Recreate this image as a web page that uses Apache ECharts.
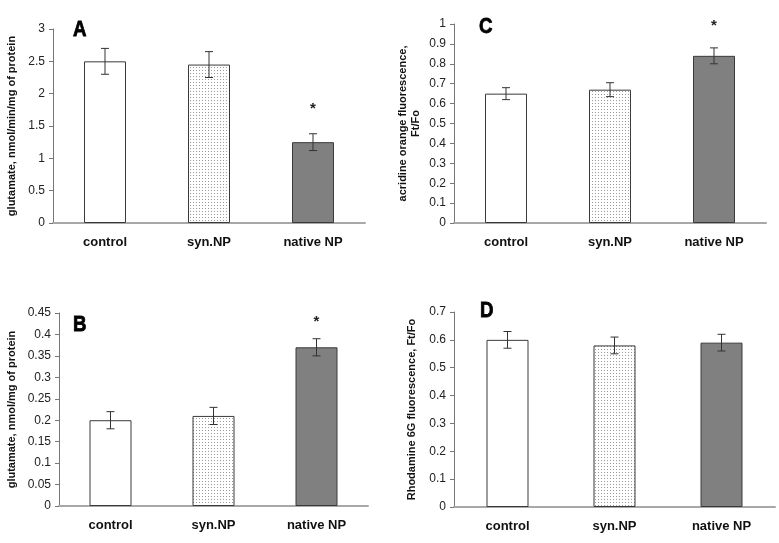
<!DOCTYPE html>
<html><head><meta charset="utf-8">
<script src="https://cdn.jsdelivr.net/npm/echarts@6/dist/echarts.min.js"></script>
<style>html,body{margin:0;padding:0;background:#fff}#c{width:779px;height:543px}</style>
</head><body><div id="c"></div>
<script>
const categories = ['control', 'syn.NP', 'native NP'];
const valuesA = [2.5, 2.45, 1.25];
const errA = [0.2, 0.2, 0.13];
const starA = [null, null, 1.76];
const valuesB = [0.2, 0.21, 0.37];
const errB = [0.02, 0.02, 0.02];
const starB = [null, null, 0.43];
const valuesC = [0.65, 0.67, 0.84];
const errC = [0.03, 0.035, 0.04];
const starC = [null, null, 0.99];
const valuesD = [0.6, 0.58, 0.59];
const errD = [0.03, 0.03, 0.03];
const starD = [null, null, null];
const yNameA = 'glutamate, nmol/min/mg of protein';
const yNameB = 'glutamate, nmol/mg of protein';
const yNameC = 'acridine orange fluorescence,\nFt/Fo';
const yNameD = 'Rhodamine 6G fluorescence, Ft/Fo';
const panelLetters = ['A', 'B', 'C', 'D'];

// dotted pattern
const pc = document.createElement('canvas');
pc.width = 3; pc.height = 3;
const ctx = pc.getContext('2d');
ctx.fillStyle = '#ffffff'; ctx.fillRect(0, 0, 3, 3);
ctx.fillStyle = '#9a9a9a'; ctx.fillRect(1, 1, 1, 1);
const dotted = { image: pc, repeat: 'repeat' };
const fills = ['#ffffff', dotted, '#808080'];

const FONT = '"Liberation Sans", Arial, sans-serif';

const panels = [
  { vals: valuesA, err: errA, star: starA, name: yNameA, max: 3, interval: 0.5, grid: { left: 53, top: 29, width: 312, height: 194 }, nameGap: 35 },
  { vals: valuesB, err: errB, star: starB, name: yNameB, max: 0.45, interval: 0.05, grid: { left: 59, top: 313, width: 309, height: 193 }, nameGap: 41 },
  { vals: valuesC, err: errC, star: starC, name: yNameC, max: 1, interval: 0.1, grid: { left: 454, top: 24, width: 312, height: 199 }, nameGap: 32 },
  { vals: valuesD, err: errD, star: starD, name: yNameD, max: 0.7, interval: 0.1, grid: { left: 454, top: 312, width: 321, height: 195 }, nameGap: 36 }
];

const letterPos = [[73, 19], [73, 314], [479, 16], [480, 300]];

function fmt(v) { return String(Math.round(v * 1000) / 1000); }

function errRender(params, api) {
  const i = api.value(0);
  const lo = api.coord([i, api.value(1)]);
  const hi = api.coord([i, api.value(2)]);
  const hw = 4;
  const st = { stroke: '#333', lineWidth: 1 };
  return {
    type: 'group', children: [
      { type: 'line', shape: { x1: lo[0], y1: lo[1], x2: hi[0], y2: hi[1] }, style: st },
      { type: 'line', shape: { x1: lo[0] - hw, y1: lo[1], x2: lo[0] + hw, y2: lo[1] }, style: st },
      { type: 'line', shape: { x1: hi[0] - hw, y1: hi[1], x2: hi[0] + hw, y2: hi[1] }, style: st }
    ]
  };
}
function starRender(params, api) {
  const p = api.coord([api.value(0), api.value(1)]);
  return { type: 'text', style: { text: '*', x: p[0], y: p[1], align: 'center', verticalAlign: 'middle', fontFamily: 'Liberation Sans', fontWeight: 'bold', fontSize: 15, fill: '#222' } };
}

const grid = [], xAxis = [], yAxis = [], series = [];
panels.forEach((p, k) => {
  grid.push(p.grid);
  xAxis.push({
    type: 'category', gridIndex: k, data: categories,
    axisLine: { lineStyle: { color: '#a8a8a8', width: 2 } },
    axisTick: { show: false },
    axisLabel: { color: '#111', fontFamily: FONT, fontWeight: 'bold', fontSize: 13, margin: 13 }
  });
  yAxis.push({
    type: 'value', gridIndex: k, min: 0, max: p.max, interval: p.interval,
    name: p.name, nameLocation: 'middle', nameRotate: 90, nameGap: p.nameGap,
    nameTextStyle: { color: '#111', fontFamily: FONT, fontWeight: 'bold', fontSize: 11, lineHeight: 13 },
    axisLine: { show: true, lineStyle: { color: '#777', width: 1 } },
    axisTick: { show: true, length: 4, lineStyle: { color: '#777' } },
    splitLine: { show: false },
    axisLabel: { color: '#222', fontFamily: FONT, fontSize: 12, margin: 8, formatter: fmt }
  });
  series.push({
    type: 'bar', xAxisIndex: k, yAxisIndex: k, barWidth: 42,
    data: p.vals.map((v, i) => ({ value: v, itemStyle: { color: fills[i], borderColor: '#3a3a3a', borderWidth: 1 } })),
    silent: true, animation: false
  });
  series.push({
    type: 'custom', xAxisIndex: k, yAxisIndex: k, renderItem: errRender, clip: false,
    data: p.vals.map((v, i) => [i, v - p.err[i], v + p.err[i]]), silent: true, animation: false, z: 5
  });
  const sd = [];
  p.star.forEach((s, i) => { if (s !== null) sd.push([i, s]); });
  series.push({
    type: 'custom', xAxisIndex: k, yAxisIndex: k, renderItem: starRender, clip: false,
    data: sd, silent: true, animation: false, z: 5
  });
});

const graphic = panelLetters.map((L, k) => ({
  type: 'text', x: letterPos[k][0], y: letterPos[k][1], scaleX: 0.85,
  style: { text: L, fontFamily: 'Liberation Sans', fontWeight: 'bold', fontSize: 22, fill: '#000', stroke: '#000', lineWidth: 0.8 }
}));

const chart = echarts.init(document.getElementById('c'), null, { renderer: 'canvas' });
chart.setOption({ animation: false, backgroundColor: '#fff', grid, xAxis, yAxis, series, graphic });
</script></body></html>
